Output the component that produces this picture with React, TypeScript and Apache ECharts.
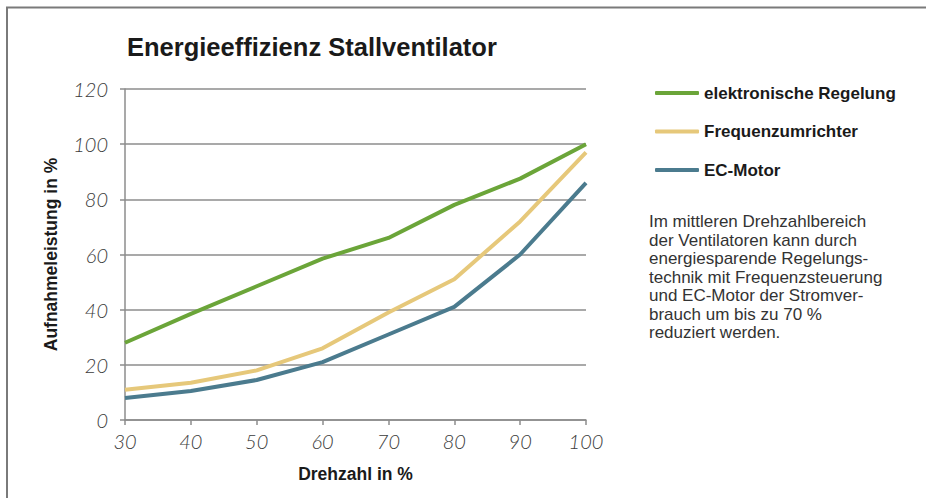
import React, { useEffect, useRef } from "react";
import * as echarts from "echarts";

const categories = ["30", "40", "50", "60", "70", "80", "90", "100"];
const elektronischeRegelung = [28, 38.5, 48.5, 58.5, 66, 78, 87.5, 100];
const frequenzumrichter = [11, 13.5, 18, 26, 39, 51, 72, 97];
const ecMotor = [8, 10.5, 14.5, 21, 31, 41, 60, 86];
const seriesNames = ["elektronische Regelung", "Frequenzumrichter", "EC-Motor"];
const seriesColors = ["#6ba539", "#e6c87a", "#4b7b8e"];
const titleText = "Energieeffizienz Stallventilator";
const noteText =
  "Im mittleren Drehzahlbereich\nder Ventilatoren kann durch\nenergiesparende Regelungs-\ntechnik mit Frequenzsteuerung\nund EC-Motor der Stromver-\nbrauch um bis zu 70 %\nreduziert werden.";

export default function App() {
  const ref = useRef<HTMLDivElement>(null);
  useEffect(() => {
    if (!ref.current) return;
    const chart = echarts.init(ref.current, null, { renderer: "svg" });
    const gray = "#8c8c8c";
    const tickFont = {
      fontFamily: "Lato, 'Open Sans', sans-serif",
      fontStyle: "italic" as const,
      fontWeight: 300 as any,
      fontSize: 20,
      color: "#3c3c3c",
    };
    const data = [elektronischeRegelung, frequenzumrichter, ecMotor];
    chart.setOption({
      animation: false,
      backgroundColor: "#ffffff",
      title: {
        text: titleText,
        left: 122,
        top: 29,
        textStyle: {
          fontFamily: "'Liberation Sans', Arial, sans-serif",
          fontWeight: "bold",
          fontSize: 25.5,
          color: "#1a1a1a",
        },
      },
      legend: {
        orient: "vertical",
        left: 655,
        top: 84,
        padding: 0,
        itemWidth: 44,
        itemHeight: 4,
        itemGap: 20.5,
        icon: "roundRect",
        data: seriesNames,
        textStyle: {
          fontFamily: "'Liberation Sans', Arial, sans-serif",
          fontWeight: "bold",
          fontSize: 17,
          color: "#1a1a1a",
          lineHeight: 18,
        },
      },
      grid: { left: 125, right: 340, top: 89, bottom: 78 },
      xAxis: {
        type: "category",
        data: categories,
        boundaryGap: false,
        name: "Drehzahl in %",
        nameLocation: "middle",
        nameGap: 45,
        nameTextStyle: {
          fontFamily: "'Liberation Sans', Arial, sans-serif",
          fontWeight: "bold",
          fontSize: 17.5,
          color: "#1a1a1a",
        },
        axisLine: { lineStyle: { color: gray, width: 1.5 } },
        axisTick: { show: true, length: 5, lineStyle: { color: gray, width: 1.5 } },
        axisLabel: { margin: 11, ...tickFont },
        splitLine: { show: false },
      },
      yAxis: {
        type: "value",
        min: 0,
        max: 120,
        interval: 20,
        name: "Aufnahmeleistung in %",
        nameLocation: "middle",
        nameGap: 65,
        nameRotate: 90,
        nameTextStyle: {
          fontFamily: "'Liberation Sans', Arial, sans-serif",
          fontWeight: "bold",
          fontSize: 17.5,
          color: "#1a1a1a",
        },
        axisLine: { show: true, lineStyle: { color: gray, width: 1.5 } },
        axisTick: { show: true, length: 5, lineStyle: { color: gray, width: 1.5 } },
        axisLabel: { margin: 17, ...tickFont },
        splitLine: { show: true, lineStyle: { color: gray, width: 1.5 } },
      },
      series: seriesNames.map((name, i) => ({
        name,
        type: "line",
        data: data[i],
        showSymbol: false,
        symbol: "none",
        lineStyle: { width: 4, color: seriesColors[i] },
        itemStyle: { color: seriesColors[i] },
        z: 3 - i,
      })),
      graphic: [
        {
          type: "polyline",
          shape: { points: [[7, 498], [7, 7.5], [926, 7.5]] },
          style: { stroke: "#7a7a7a", lineWidth: 2, fill: "none" },
        },
        {
          type: "text",
          left: 649,
          top: 212.5,
          style: {
            text: noteText,
            fontFamily: "'Liberation Sans', Arial, sans-serif",
            fontSize: 17,
            lineHeight: 18.5,
            fill: "#333333",
          },
        },
      ],
    });
    return () => chart.dispose();
  }, []);
  return (
    <div
      ref={ref}
      style={{ position: "absolute", left: 0, top: 0, width: 926, height: 498 }}
    />
  );
}
